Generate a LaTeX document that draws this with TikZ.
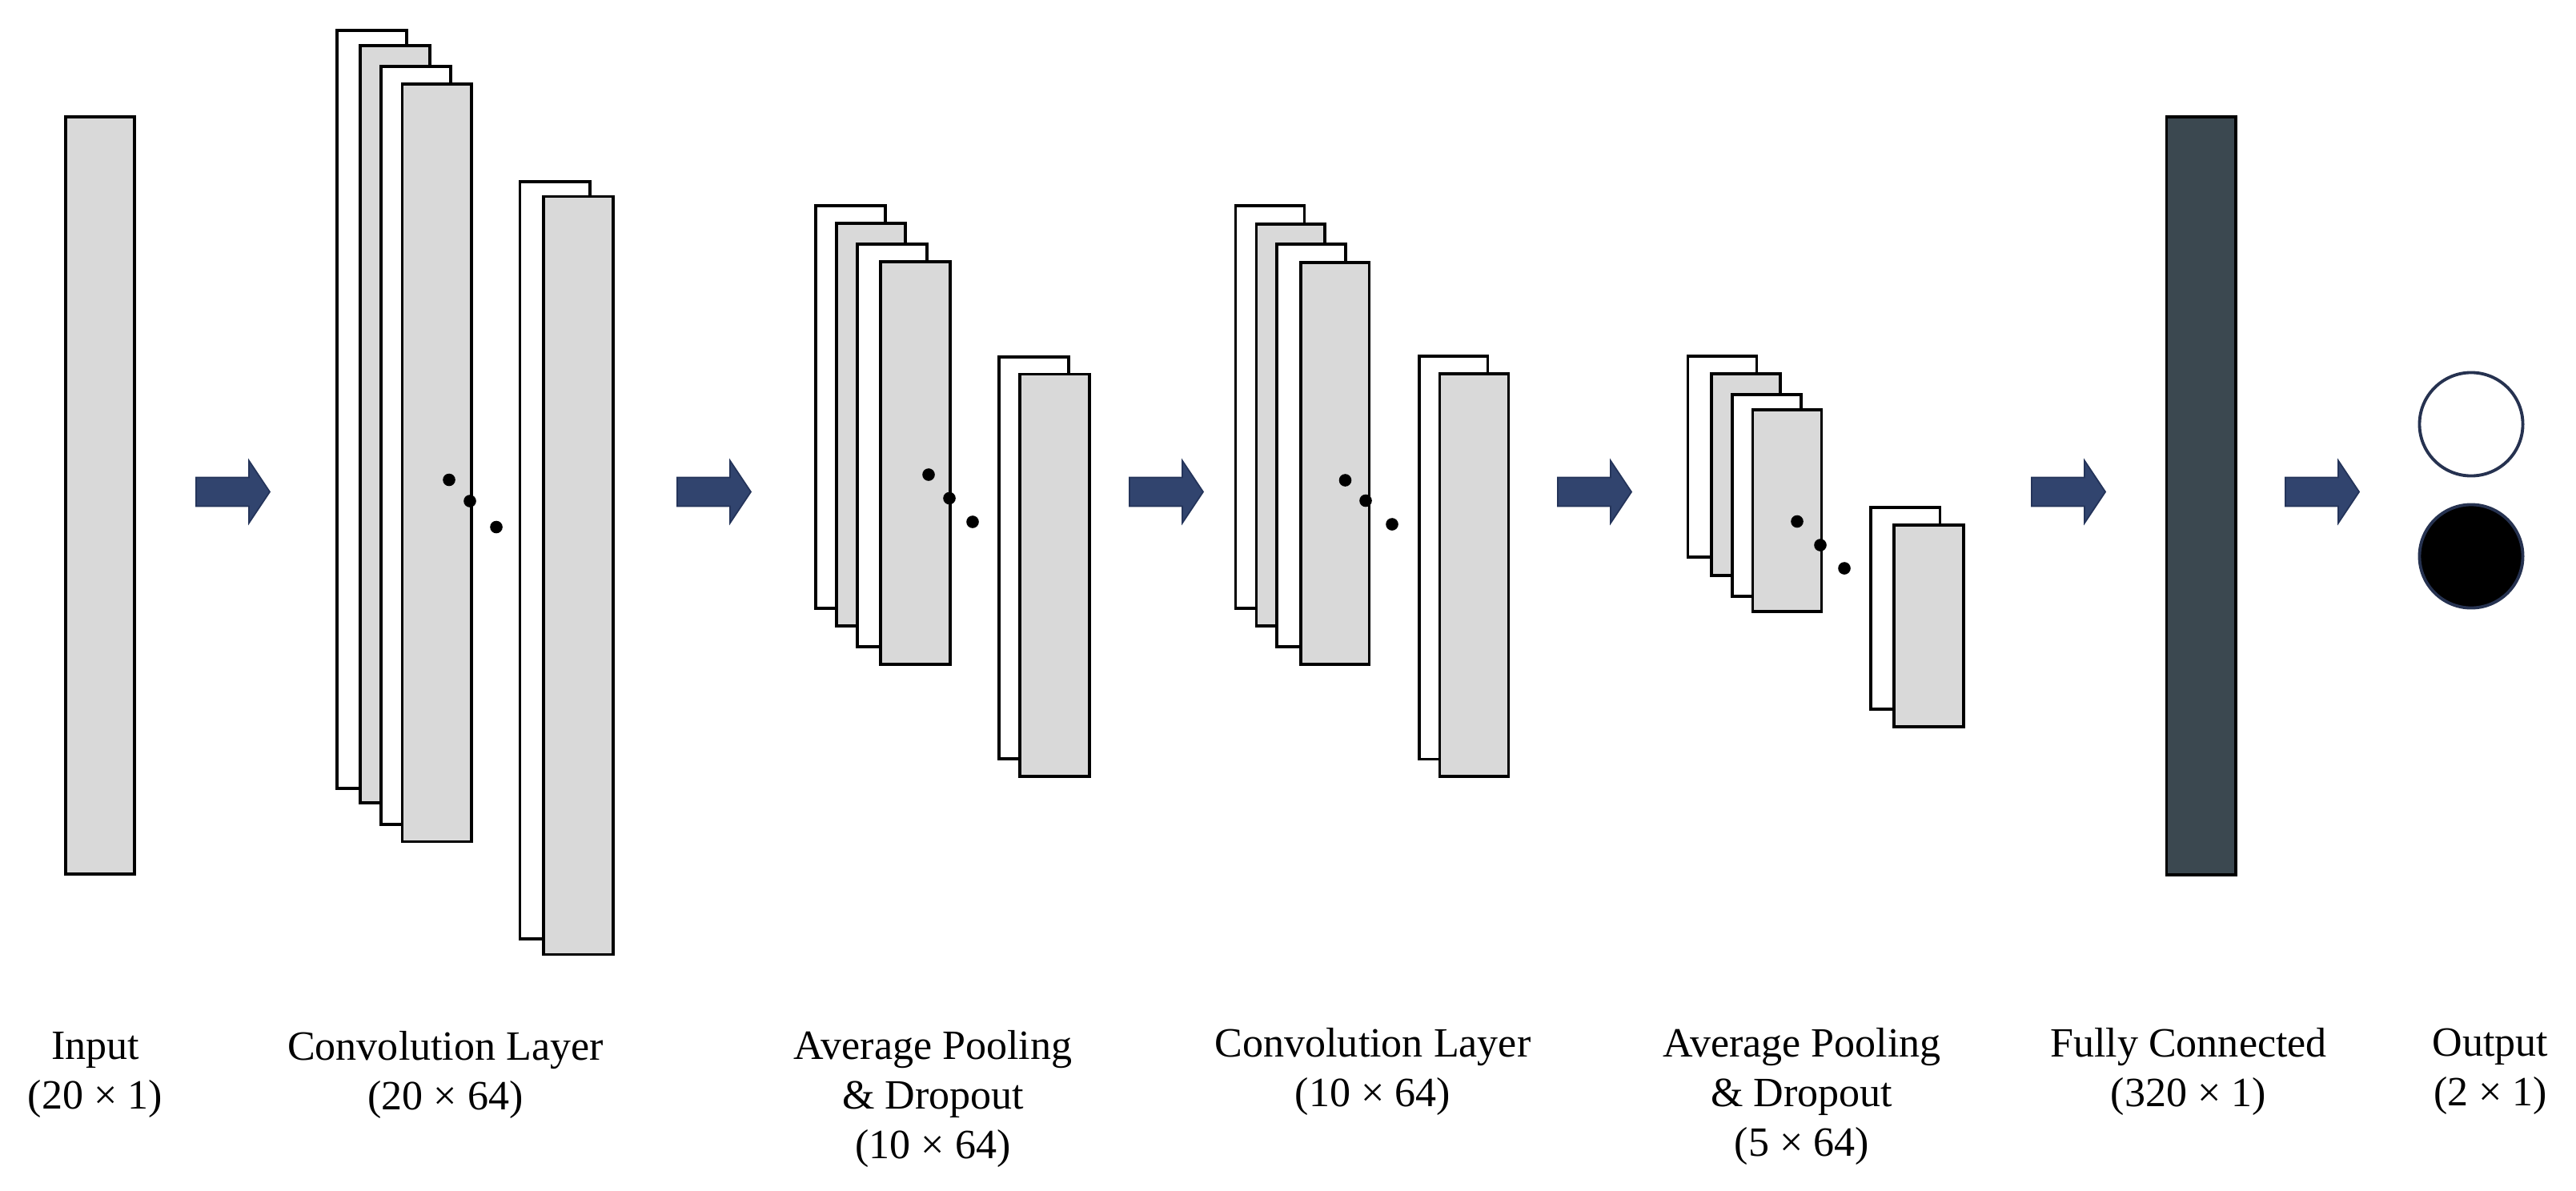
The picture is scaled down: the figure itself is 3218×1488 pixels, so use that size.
\documentclass[tikz,border=0pt]{standalone}
\usepackage{fontspec}
\setmainfont{Liberation Serif}
\definecolor{fillgray}{RGB}{217,217,217}
\definecolor{arrowblue}{RGB}{49,68,110}
\definecolor{arrowedge}{RGB}{36,52,90}
\definecolor{fcdark}{RGB}{59,72,80}
\definecolor{circedge}{RGB}{38,50,80}
\begin{document}
\begin{tikzpicture}[x=0.01cm,y=-0.01cm,
  sheetw/.style={draw=black,fill=white,line width=0.9pt},
  sheetg/.style={draw=black,fill=fillgray,line width=0.9pt},
  fcbox/.style={draw=black,fill=fcdark,line width=1.1pt},
  fmapdot/.style={fill=black},
  arrowshape/.style={fill=arrowblue,draw=arrowedge,line width=0.5pt,line join=miter},
  lbl/.style={anchor=base,inner sep=0pt,font=\fontsize{14.8}{17.7}\selectfont},
  outw/.style={draw=circedge,fill=white,line width=1.1pt},
  outb/.style={draw=circedge,fill=black,line width=1.1pt},
  blockarrow/.pic={\path[arrowshape] (0,-18) -- (66,-18) -- (66,-39) -- (92,0) -- (66,39) -- (66,18) -- (0,18) -- cycle;}
]
\useasboundingbox (0,0) rectangle (3218,1488);

% Input
\path[sheetg] (82,146) rectangle (168,1092);

% Conv 1
\path[sheetw] (421,38) rectangle (508,985);
\path[sheetg] (450,57) rectangle (537,1003);
\path[sheetw] (476,83) rectangle (563,1030);
\path[sheetg] (502.5,105) rectangle (589,1051.5);
\path[sheetw] (649.5,227) rectangle (737,1173);
\path[sheetg] (679,245.5) rectangle (766,1192.5);
\fill[fmapdot] (561,599.5) circle[radius=0.078cm];
\fill[fmapdot] (587,626) circle[radius=0.078cm];
\fill[fmapdot] (620,658.5) circle[radius=0.078cm];

% Pool 1
\path[sheetw] (1019,257) rectangle (1106,760);
\path[sheetg] (1045,279) rectangle (1131,782);
\path[sheetw] (1071,305) rectangle (1158,808);
\path[sheetg] (1100,327) rectangle (1187,830);
\path[sheetw] (1248,446) rectangle (1335,948);
\path[sheetg] (1274,467.5) rectangle (1361,970);
\fill[fmapdot] (1160,593) circle[radius=0.078cm];
\fill[fmapdot] (1186,622.5) circle[radius=0.078cm];
\fill[fmapdot] (1215,652) circle[radius=0.078cm];

% Conv 2
\path[sheetw] (1543.5,257) rectangle (1629.5,760);
\path[sheetg] (1569.5,280) rectangle (1655,782);
\path[sheetw] (1595,305) rectangle (1681,808);
\path[sheetg] (1625,328) rectangle (1710.5,830);
\path[sheetw] (1773,445) rectangle (1858.5,948.5);
\path[sheetg] (1798.5,467) rectangle (1884.5,970);
\fill[fmapdot] (1680.5,600) circle[radius=0.078cm];
\fill[fmapdot] (1706,625.5) circle[radius=0.078cm];
\fill[fmapdot] (1739,655) circle[radius=0.078cm];

% Pool 2
\path[sheetw] (2108.5,445) rectangle (2194.5,696);
\path[sheetg] (2138,467) rectangle (2224,719);
\path[sheetw] (2164,493) rectangle (2250,745);
\path[sheetg] (2189.5,512) rectangle (2275.5,764);
\path[sheetw] (2337,634) rectangle (2423.5,886);
\path[sheetg] (2366,656) rectangle (2453,908);
\fill[fmapdot] (2245,651.5) circle[radius=0.078cm];
\fill[fmapdot] (2274,681) circle[radius=0.078cm];
\fill[fmapdot] (2304,710) circle[radius=0.078cm];

% Fully connected
\path[fcbox] (2706.5,146) rectangle (2793,1093);

% Output neurons
\path[outw] (3087,530) circle[radius=0.645cm];
\path[outb] (3087,695) circle[radius=0.645cm];

% Arrows
\pic (arA) at (245,614.5) {blockarrow};
\pic (arB) at (846,614.5) {blockarrow};
\pic (arC) at (1411,614.5) {blockarrow};
\pic (arD) at (1946,614.5) {blockarrow};
\pic (arE) at (2538,614.5) {blockarrow};
\pic (arF) at (2855,614.5) {blockarrow};

% Labels
\node[lbl] (lInput) at (119,1323) {\begin{tabular}[t]{@{}c@{}}Input\\(20 × 1)\end{tabular}};
\node[lbl] (lConvA) at (556.5,1324) {\begin{tabular}[t]{@{}c@{}}Convolution Layer\\(20 × 64)\end{tabular}};
\node[lbl] (lPoolA) at (1165.5,1323) {\begin{tabular}[t]{@{}c@{}}Average Pooling\\\& Dropout\\(10 × 64)\end{tabular}};
\node[lbl] (lConvB) at (1715,1320) {\begin{tabular}[t]{@{}c@{}}Convolution Layer\\(10 × 64)\end{tabular}};
\node[lbl] (lPoolB) at (2251,1320) {\begin{tabular}[t]{@{}c@{}}Average Pooling\\\& Dropout\\(5 × 64)\end{tabular}};
\node[lbl] (lFC) at (2734,1320) {\begin{tabular}[t]{@{}c@{}}Fully Connected\\(320 × 1)\end{tabular}};
\node[lbl] (lOut) at (3111,1319) {\begin{tabular}[t]{@{}c@{}}Output\\(2 × 1)\end{tabular}};
\end{tikzpicture}
\end{document}
